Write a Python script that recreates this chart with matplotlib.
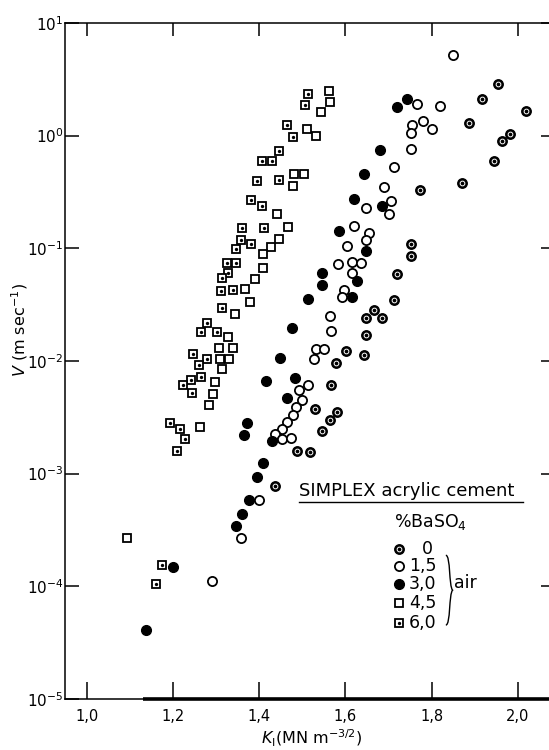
# -*- coding: utf-8 -*-
import matplotlib
matplotlib.use('Agg')
from matplotlib import pyplot as plt
from matplotlib.path import Path
from matplotlib.patches import PathPatch

# crack velocity V (m/s) versus stress intensity K_I, SIMPLEX acrylic cement
# 0 % BaSO4
k0 = [1.955, 1.917, 2.019, 1.888, 1.983, 1.963, 1.945, 1.870, 1.773, 1.752,
      1.753, 1.720, 1.712, 1.667, 1.648, 1.685, 1.648, 1.601, 1.643, 1.578,
      1.566, 1.529, 1.581, 1.564, 1.546, 1.487, 1.517, 1.435]
v0 = [2.88, 2.09, 1.65, 1.28, 1.035, 0.885, 0.60, 0.377, 0.33, 0.108,
      0.0857, 0.059, 0.0347, 0.0283, 0.0239, 0.0239, 0.0169, 0.0122, 0.0113, 0.0096,
      0.00605, 0.00377, 0.0035, 0.0030, 0.00241, 0.00158, 0.00154, 7.7e-4]

# 1.5 % BaSO4
k15 = [1.849, 1.766, 1.820, 1.780, 1.755, 1.801, 1.753, 1.753, 1.713, 1.689,
       1.706, 1.702, 1.648, 1.654, 1.620, 1.648, 1.603, 1.583, 1.616, 1.637,
       1.616, 1.597, 1.591, 1.564, 1.566, 1.531, 1.551, 1.527, 1.514, 1.493,
       1.500, 1.485, 1.477, 1.465, 1.453, 1.435, 1.452, 1.474, 1.398, 1.356,
       1.290]
v15 = [5.18, 1.89, 1.84, 1.34, 1.24, 1.14, 1.05, 0.76, 0.53, 0.349,
       0.261, 0.202, 0.226, 0.137, 0.156, 0.118, 0.105, 0.072, 0.075, 0.0746,
       0.060, 0.043, 0.0366, 0.025, 0.0185, 0.0127, 0.0127, 0.0103, 0.00605, 0.00552,
       0.00454, 0.00393, 0.00329, 0.00288, 0.0025, 0.00226, 0.00202, 0.00208, 5.8e-4, 2.67e-4,
       1.12e-4]

# 3.0 % BaSO4
k30 = [1.744, 1.719, 1.680, 1.643, 1.619, 1.686, 1.584, 1.648, 1.545, 1.545,
       1.626, 1.614, 1.512, 1.476, 1.447, 1.416, 1.482, 1.463, 1.372, 1.364,
       1.429, 1.409, 1.394, 1.375, 1.359, 1.345, 1.200, 1.136]
v30 = [2.11, 1.80, 0.748, 0.455, 0.272, 0.237, 0.1435, 0.0944, 0.0607, 0.0471,
       0.0512, 0.0366, 0.0354, 0.0196, 0.0107, 0.00659, 0.0071, 0.00464, 0.00279, 0.0022,
       0.00196, 0.00123, 9.4e-4, 5.8e-4, 4.4e-4, 3.43e-4, 1.48e-4, 4.1e-5]

# 4.5 % BaSO4
k45 = [1.562, 1.564, 1.542, 1.511, 1.531, 1.480, 1.503, 1.477, 1.441, 1.466,
       1.445, 1.427, 1.409, 1.409, 1.390, 1.367, 1.378, 1.344, 1.328, 1.307,
       1.339, 1.308, 1.330, 1.314, 1.296, 1.291, 1.282, 1.262, 1.093]
v45 = [2.48, 1.98, 1.63, 1.15, 0.99, 0.453, 0.458, 0.356, 0.20, 0.154,
       0.121, 0.102, 0.0883, 0.0671, 0.0533, 0.0435, 0.0331, 0.0261, 0.0162, 0.0131,
       0.0131, 0.0104, 0.0104, 0.0084, 0.00646, 0.00506, 0.00404, 0.0026, 2.7e-4]

# 6.0 % BaSO4
k60 = [1.513, 1.507, 1.465, 1.477, 1.446, 1.407, 1.430, 1.395, 1.445, 1.380,
       1.406, 1.359, 1.410, 1.358, 1.380, 1.345, 1.324, 1.345, 1.328, 1.313,
       1.311, 1.338, 1.314, 1.277, 1.263, 1.302, 1.245, 1.279, 1.260, 1.265,
       1.241, 1.223, 1.243, 1.193, 1.215, 1.226, 1.209, 1.173, 1.159]
v60 = [2.33, 1.85, 1.25, 0.96, 0.73, 0.59, 0.59, 0.395, 0.40, 0.27,
       0.237, 0.151, 0.151, 0.118, 0.110, 0.099, 0.0735, 0.074, 0.060, 0.0545,
       0.0415, 0.0423, 0.0297, 0.0216, 0.018, 0.018, 0.0115, 0.0105, 0.00925, 0.00725,
       0.0068, 0.00607, 0.00522, 0.00279, 0.00249, 0.00201, 0.0016, 1.55e-4, 1.05e-4]

xticks = [1.0, 1.2, 1.4, 1.6, 1.8, 2.0]
xticklabels = ['1,0', '1,2', '1,4', '1,6', '1,8', '2,0']
ydecades = [-5, -4, -3, -2, -1, 0, 1]
legend_labels = ['0', '1,5', '3,0', '4,5', '6,0']

W, H = 549, 750
fig = plt.figure(figsize=(W / 100, H / 100), dpi=100)
ax = fig.add_axes([65 / W, 1 - 699 / H, 487 / W, 676.2 / H])

# marker styles
def half(x, y, **kw):
    ax.plot(x, y, 'o', ms=6.8, mfc='black', mec='black', mew=1, **kw)
    ax.plot(x, y, 'o', ms=3.4, mfc='none', mec='white', mew=0.7, **kw)

def opencirc(x, y, **kw):
    ax.plot(x, y, 'o', ms=6.6, mfc='white', mec='black', mew=1.3, **kw)

def fullcirc(x, y, **kw):
    ax.plot(x, y, 'o', ms=7.0, mfc='black', mec='black', mew=1, **kw)

def opensq(x, y, **kw):
    ax.plot(x, y, 's', ms=6.0, mfc='white', mec='black', mew=1.3, **kw)

def dotsq(x, y, **kw):
    ax.plot(x, y, 's', ms=6.0, mfc='white', mec='black', mew=1.3, **kw)
    ax.plot(x, y, 'o', ms=2.4, mfc='black', mec='black', mew=0, **kw)

half(k0, v0)
opencirc(k15, v15)
fullcirc(k30, v30)
opensq(k45, v45)
dotsq(k60, v60)

ax.set_yscale('log')
ax.set_xlim(0.948, 2.080)
ax.set_ylim(1e-5, 1e1)

ax.set_xticks(xticks)
ax.set_xticklabels(xticklabels)
ax.set_yticks([10.0 ** d for d in ydecades])
ax.set_yticklabels([r'$10^{%d}$' % d for d in ydecades])
ax.minorticks_off()

ax.tick_params(axis='x', direction='in', length=12, width=1.1, top=True,
               labelsize=10.5, pad=7)
ax.tick_params(axis='y', direction='in', length=10, width=1.1, right=True,
               labelsize=11, pad=1)
# shorter ticks on top and right
for t in ax.xaxis.get_major_ticks():
    t.tick2line.set_markersize(9)
for t in ax.yaxis.get_major_ticks():
    t.tick2line.set_markersize(8)

for s in ['left', 'top', 'bottom']:
    ax.spines[s].set_linewidth(1.1)
ax.spines['right'].set_visible(False)
# heavy bottom rule of the original print
ax.plot([0.161, 1.0], [0.0, 0.0], color='black', lw=2.6,
        transform=ax.transAxes, clip_on=False, solid_capstyle='butt')

fig.text(20 / W, 1 - 330 / H, r'$V$ (m sec$^{-1}$)', rotation=90,
         ha='center', va='center', fontsize=11.5)
fig.text(312 / W, 1 - 738 / H, r'$K_\mathrm{I}$(MN m$^{-3/2}$)',
         ha='center', va='center', fontsize=11.5)

# legend drawn by hand, like the original figure
fs = 12.5
ax.text(0.4805, 0.300, 'SIMPLEX acrylic cement', transform=ax.transAxes,
        ha='left', va='baseline', fontsize=13)
ax.plot([0.4805, 0.940], [0.2918, 0.2918], color='black', lw=1.0,
        transform=ax.transAxes)
ax.text(0.7495, 0.2622, r'%BaSO$_4$', transform=ax.transAxes,
        ha='center', va='center', fontsize=fs)

rows = [0.2218, 0.1967, 0.170, 0.142, 0.1128]
mk = [half, opencirc, fullcirc, opensq, dotsq]
for f, r, lab in zip(mk, rows, legend_labels):
    f([0.686], [r], transform=ax.transAxes, clip_on=False)
    if lab == '0':
        ax.text(0.745, r, lab, transform=ax.transAxes,
                ha='center', va='center', fontsize=fs)
    else:
        ax.text(0.706, r, lab, transform=ax.transAxes,
                ha='left', va='center', fontsize=fs)

# brace for the "air" group
bx, by0, by1 = 0.782, 0.2125, 0.1094
bm = 0.5 * (by0 + by1)
verts = [(bx, by0), (bx + 0.010, by0), (bx + 0.006, bm + 0.005), (bx + 0.014, bm),
         (bx + 0.006, bm - 0.005), (bx + 0.010, by1), (bx, by1)]
codes = [Path.MOVETO, Path.CURVE4, Path.CURVE4, Path.CURVE4,
         Path.CURVE4, Path.CURVE4, Path.CURVE4]
ax.add_patch(PathPatch(Path(verts, codes), fill=False, lw=1.0, ec='black',
                       transform=ax.transAxes, clip_on=False))
ax.text(0.799, 0.1715, 'air', transform=ax.transAxes,
        ha='left', va='center', fontsize=fs)

fig.savefig('out.png', dpi=100)
